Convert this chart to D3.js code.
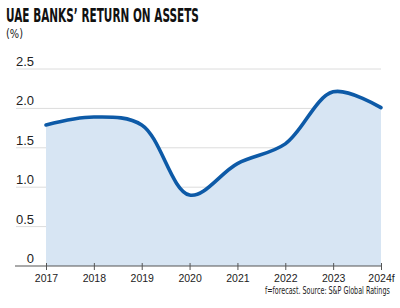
<!DOCTYPE html>
<html><head><meta charset="utf-8">
<script src="https://cdn.jsdelivr.net/npm/d3@7"></script>
<style>body{margin:0;background:#fff}svg{display:block}</style>
</head><body><svg id="c" width="400" height="308"></svg>
<script>
const years = ["2017","2018","2019","2020","2021","2022","2023","2024f"];
const roa = [1.79, 1.89, 1.79, 0.90, 1.30, 1.55, 2.21, 2.01];
const yTicks = [0, 0.5, 1.0, 1.5, 2.0, 2.5];
const yTickLabels = ["0","0.5","1.0","1.5","2.0","2.5"];

const svg = d3.select("#c");
const x = d3.scalePoint().domain(years).range([46, 381]);
const y = d3.scaleLinear().domain([0, 2.5]).range([266, 69]);
const data = years.map((yr,i)=>({yr, v: roa[i]}));

svg.append("g").selectAll("line").data(yTicks.slice(1)).join("line")
  .attr("x1", 16).attr("x2", 381).attr("y1", d=>y(d)).attr("y2", d=>y(d))
  .attr("stroke", "#dcdcdc").attr("stroke-width", 1);

const curve = d3.curveCatmullRom.alpha(0.5);
svg.append("path").datum(data)
  .attr("d", d3.area().x(d=>x(d.yr)).y0(y(0)).y1(d=>y(d.v)).curve(curve))
  .attr("fill", "#d7e5f3");
svg.append("path").datum(data)
  .attr("d", d3.line().x(d=>x(d.yr)).y(d=>y(d.v)).curve(curve))
  .attr("fill", "none").attr("stroke", "#0d5aa7").attr("stroke-width", 3.6).attr("stroke-linecap","round");

svg.append("g").selectAll("text").data(yTicks).join("text")
  .attr("x", 34).attr("y", d=>y(d)-3).attr("text-anchor", "end")
  .attr("font-family", "Liberation Sans, Arial, sans-serif").attr("font-size", 13).attr("fill", "#222")
  .text((d,i)=>yTickLabels[i]);

const xa = svg.append("g").attr("transform", `translate(0,${y(0)})`)
  .call(d3.axisBottom(x).tickSize(4).tickPadding(5));
xa.select(".domain").remove();
xa.selectAll(".tick line").attr("stroke", "#555").attr("y1", -3);
xa.selectAll("text").attr("font-family", "Liberation Sans, Arial, sans-serif").attr("font-size", 10.5).attr("fill", "#222")
  .attr("dy", null).attr("y", 16);
svg.append("line").attr("x1", 15).attr("x2", 382).attr("y1", y(0)).attr("y2", y(0)).attr("stroke", "#555").attr("stroke-width", 1.2);

const cond = "'Liberation Sans Narrow', 'DejaVu Sans Condensed', sans-serif";
function squeezed(tx, ty, target, size, weight, str, fill) {
  const g = svg.append("g");
  const t = g.append("text").attr("x", 0).attr("y", 0)
    .attr("font-family", cond).attr("font-weight", weight)
    .attr("font-size", size).attr("fill", fill).text(str);
  const w = t.node().getComputedTextLength();
  g.attr("transform", `translate(${tx},${ty}) scale(${target / w},1)`);
}
squeezed(6, 22, 193, 19, "bold", "UAE BANKS\u2019 RETURN ON ASSETS", "#111");
squeezed(6, 38, 17, 13, "normal", "(%)", "#222");
squeezed(265, 294, 125, 10.5, "normal", "f=forecast. Source: S&P Global Ratings", "#222");
</script></body></html>
